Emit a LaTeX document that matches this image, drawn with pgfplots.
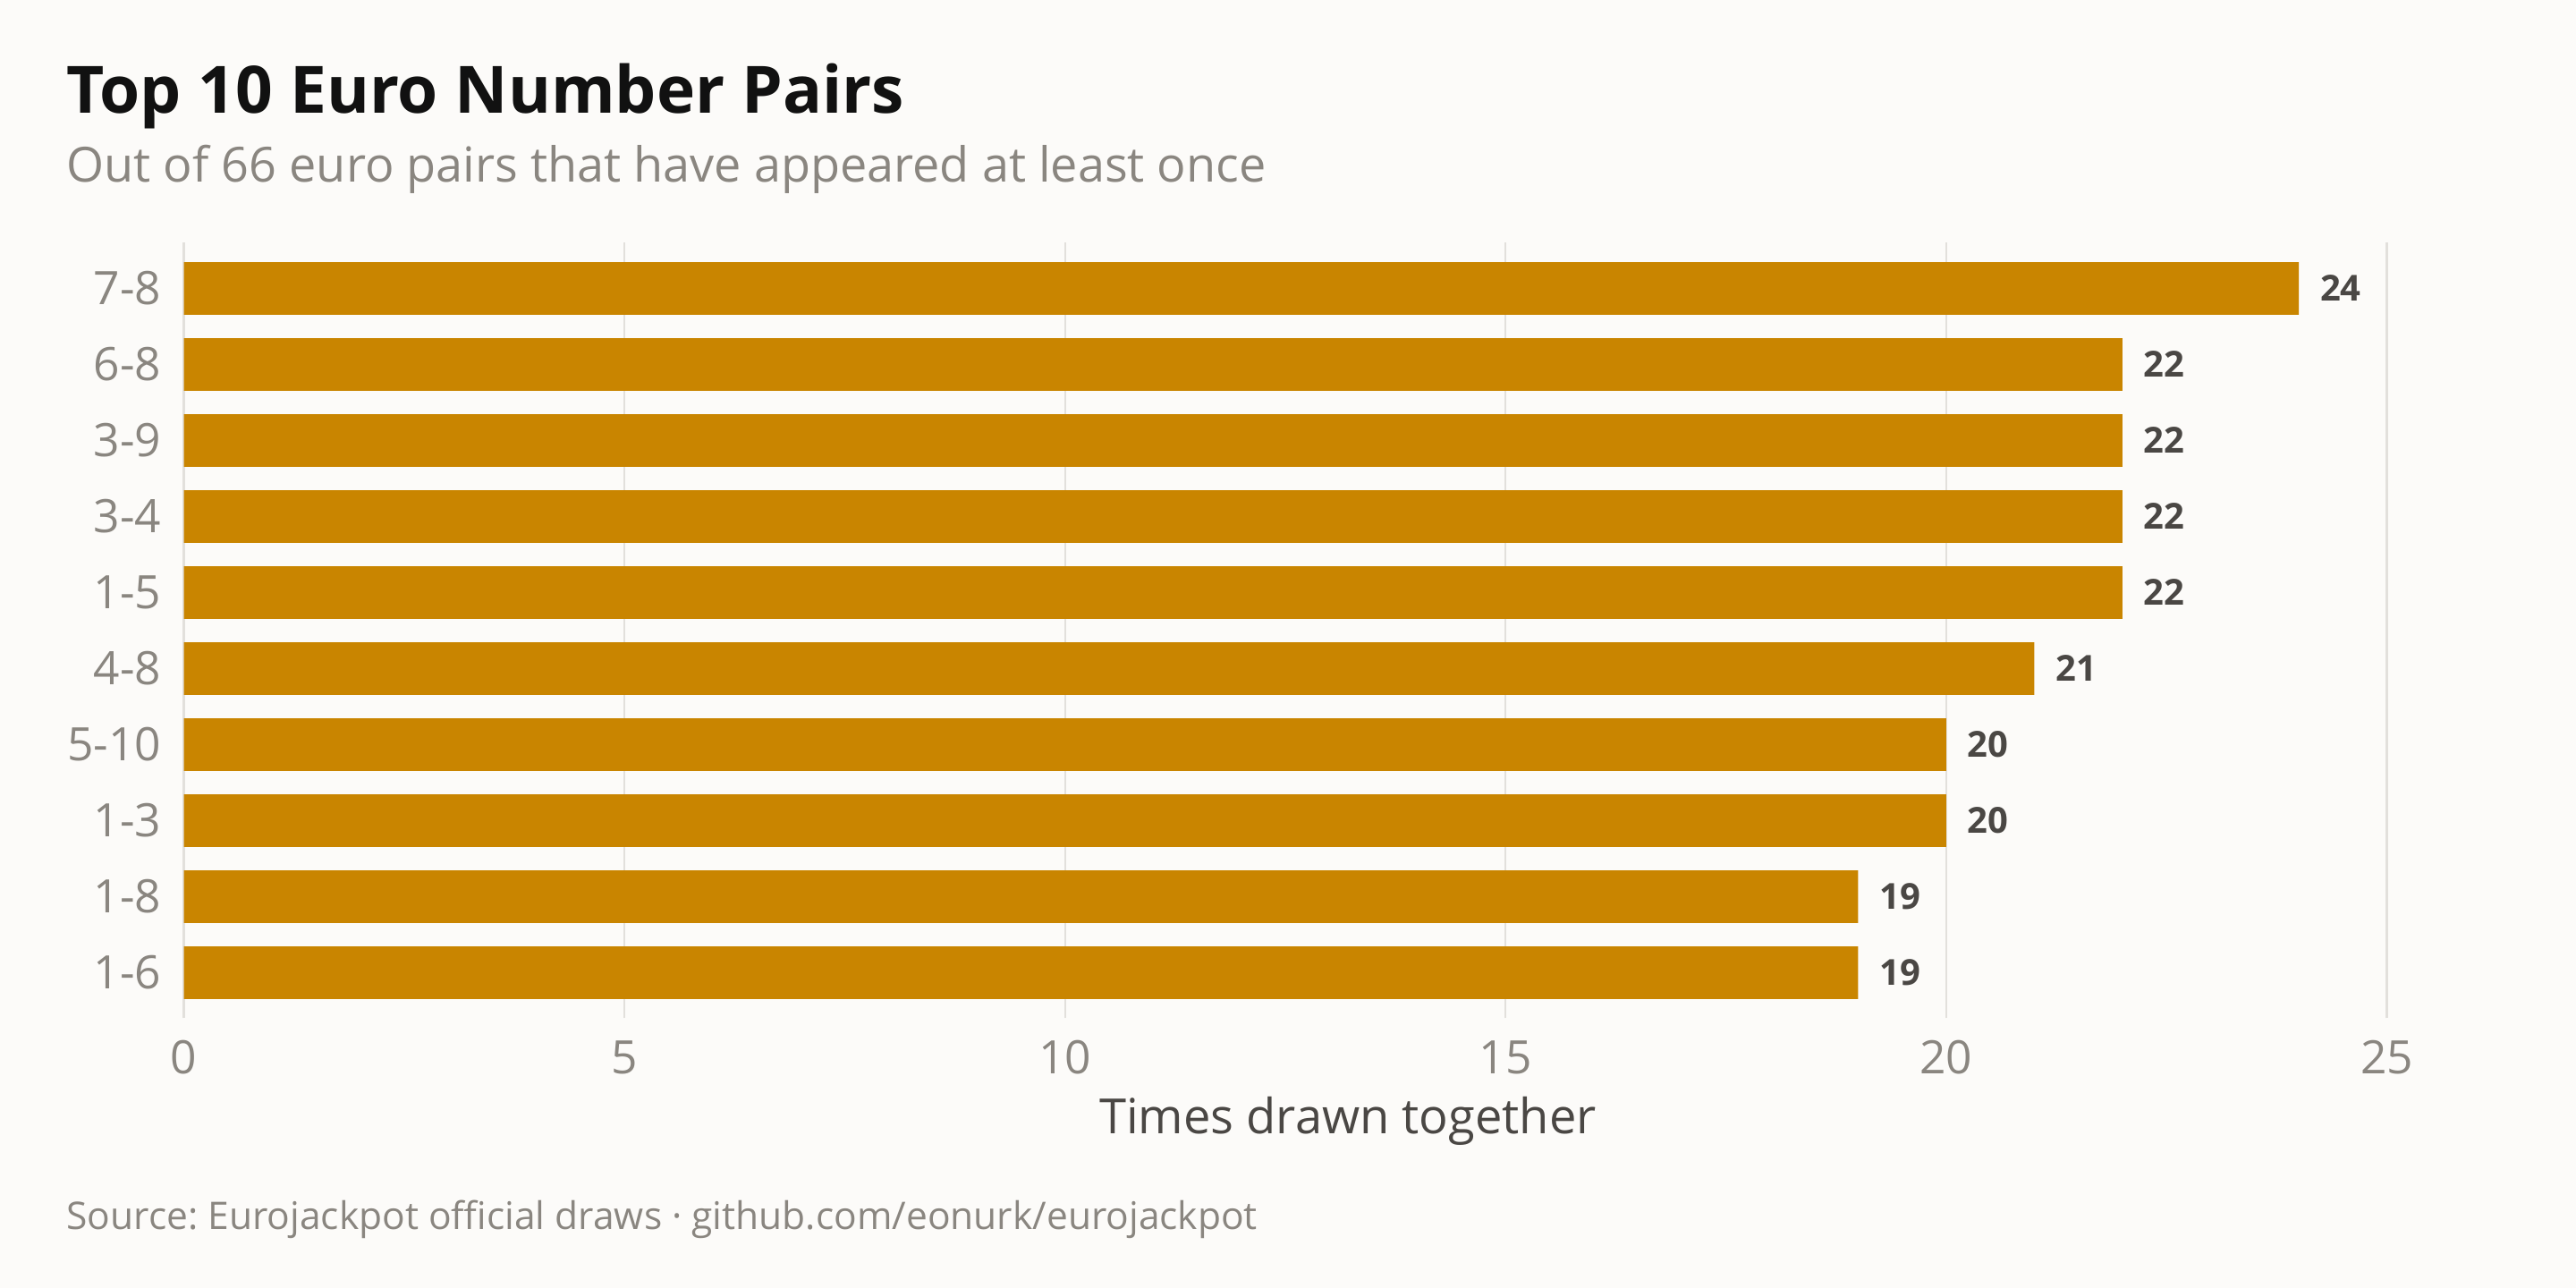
\documentclass[border=0pt]{standalone}
\usepackage{pgfplots}
\pgfplotsset{compat=1.18}
\usepackage{fontspec}
\setmainfont{Open Sans}
\frenchspacing
\definecolor{bg}{HTML}{FCFBF9}
\definecolor{barc}{HTML}{C98500}
\definecolor{titlec}{HTML}{111111}
\definecolor{subc}{HTML}{8A8680}
\definecolor{gridc}{HTML}{E2E0DC}
\definecolor{darkc}{HTML}{4A4744}
\begin{document}
\begin{tikzpicture}
\fill[bg] (0,0) rectangle (576pt,288pt);
\useasboundingbox (0,0) rectangle (576pt,288pt);
\node[anchor=base west, inner sep=0, font=\fontsize{14.6}{18}\selectfont\bfseries, text=titlec] at (14.7pt,262.7pt) {Top 10 Euro Number Pairs};
\node[anchor=base west, inner sep=0, font=\fontsize{10.8}{12}\selectfont, text=subc] at (14.7pt,247.2pt) {Out of 66 euro pairs that have appeared at least once};
\node[anchor=base west, inner sep=0, font=\fontsize{8.5}{10}\selectfont, text=subc] at (14.7pt,13.1pt) {Source: Eurojackpot official draws · github.com/eonurk/eurojackpot};
\begin{axis}[
  at={(41.1pt,60.3pt)}, anchor=south west,
  scale only axis, width=492.6pt, height=173.4pt,
  xbar, bar width=0.69,
  xmin=0, xmax=25, ymin=-0.6, ymax=9.6,
  xtick={0,5,10,15,20,25},
  ytick={0,...,9},
  yticklabels={1-6,1-8,1-3,5-10,4-8,1-5,3-4,3-9,6-8,7-8},
  xmajorgrids, grid style={gridc, line width=0.45pt},
  axis line style={draw=none},
  major tick length=0pt,
  /pgf/number format/assume math mode=true,
  tick label style={font=\fontsize{10.3}{12}\selectfont, text=subc},
  yticklabel style={xshift=-1.5pt},
  xticklabel style={yshift=-1.5pt},
  xlabel={Times drawn together},
  xlabel style={at={(axis description cs:0.5,0)}, anchor=base, yshift=-25.8pt, xshift=14pt, font=\fontsize{10.85}{12}\selectfont, text=darkc},
  nodes near coords,
  every node near coord/.append style={anchor=west, inner sep=0pt, xshift=4.6pt, font=\fontsize{8}{10}\selectfont\bfseries, text=darkc},
]
\addplot[fill=barc, draw=none] coordinates {
(19,0) (19,1) (20,2) (20,3) (21,4) (22,5) (22,6) (22,7) (22,8) (24,9)
};
\end{axis}
\end{tikzpicture}
\end{document}
